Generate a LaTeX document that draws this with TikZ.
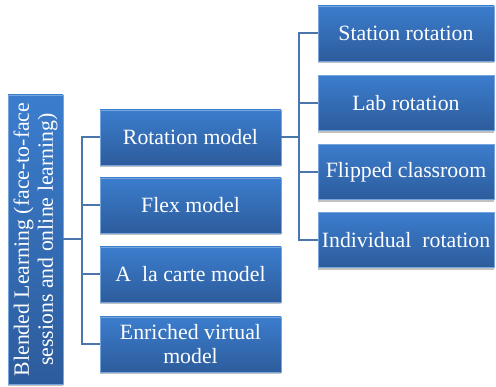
\documentclass[tikz,border=0pt]{standalone}
\usepackage{fontspec}
\setmainfont{Liberation Serif}
\usetikzlibrary{shadows}
\definecolor{boxtop}{HTML}{3B7DCD}
\definecolor{boxbot}{HTML}{2D5C9C}
\definecolor{linkblue}{HTML}{4A76AC}
\tikzset{
  box/.style={draw=boxtop!70!white, line width=0.4pt, top color=boxtop, bottom color=boxbot,
    text=white, align=center, inner sep=2pt,
    font=\fontsize{21.8}{24}\selectfont,
    drop shadow={shadow xshift=0pt, shadow yshift=-2.5pt, opacity=0.35, fill=black!70}},
  link/.style={draw=linkblue, line width=2pt}
}
\begin{document}
\begin{tikzpicture}[x=1pt,y=1pt]
  \useasboundingbox (0,0) rectangle (496,-387);
  \node[box, rotate=90, minimum width=289, minimum height=55] (root) at (35.5,-239.5)
    {Blended Learning (face-to-face\\sessions and online learning)};
  \node[box, minimum width=181, minimum height=55] (rot) at (190.5,-137.5) {Rotation model};
  \node[box, minimum width=181, minimum height=55] (flex) at (190.5,-205.5) {Flex model};
  \node[box, minimum width=181, minimum height=55] (carte) at (190.5,-274.5) {A\ \ la carte model};
  \node[box, minimum width=181, minimum height=55] (enr) at (190.5,-344.5) {Enriched virtual\\model};
  \node[box, minimum width=176, minimum height=55] (stat) at (406,-33.5) {Station rotation};
  \node[box, minimum width=176, minimum height=55] (lab) at (406,-103) {Lab rotation};
  \node[box, minimum width=176, minimum height=55] (flip) at (406,-172) {Flipped classroom};
  \node[box, minimum width=176, minimum height=55] (indiv) at (406,-240) {Individual\ \ rotation};
  \coordinate (bus1) at (82,-239.5);
  \coordinate (bus2) at (299,-137.5);
  \begin{scope}[link]
    \draw (root.south) -- (bus1);
    \foreach \n in {rot,flex,carte,enr}
      \draw (bus1) |- (\n.west);
    \draw (rot.east) -- (bus2);
    \foreach \n in {stat,lab,flip,indiv}
      \draw (bus2) |- (\n.west);
  \end{scope}
\end{tikzpicture}
\end{document}
